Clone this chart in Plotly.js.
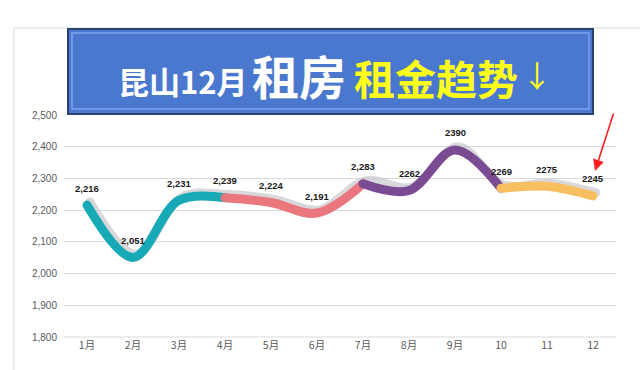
<!DOCTYPE html>
<html><head><meta charset="utf-8">
<script src="https://cdn.plot.ly/plotly-3.0.1.min.js"></script>
<style>html,body{margin:0;padding:0;background:#fff}#c{width:640px;height:370px}
#c .scatterlayer path.js-line{stroke-linecap:round}</style>
</head><body><div id="c"></div>
<script>
const months = ['1月','2月','3月','4月','5月','6月','7月','8月','9月','10','11','12'];
const rent = [2216, 2051, 2231, 2239, 2224, 2191, 2283, 2262, 2390, 2269, 2275, 2245];
const labelText = ['2,216','2,051','2,231','2,239','2,224','2,191','2,283','2262','2390','2269','2275','2245'];
const segments = [[0,3],[3,6],[6,9],[9,11]];
const segColors = ['#17a9b5','#e9777d','#7a4b92','#f8bf61'];

const traces = [];
// soft shadow of the whole line, drawn on the (hidden, slightly shifted) base axes
traces.push({x: months, y: rent, type:'scatter', mode:'lines', xaxis:'x', yaxis:'y',
  line:{shape:'spline', smoothing:1, width:9, color:'rgba(200,200,205,0.7)'}, hoverinfo:'skip'});
segments.forEach((s,i)=>{
  traces.push({x: months.slice(s[0], s[1]+1), y: rent.slice(s[0], s[1]+1), type:'scatter', mode:'lines',
    xaxis:'x2', yaxis:'y2',
    line:{shape:'spline', smoothing:1, width:9, color: segColors[i]}, hoverinfo:'skip'});
});

const annotations = months.map((m,i)=>({xref:'x2', yref:'y2', x:i, y:rent[i], text:'<b>'+labelText[i]+'</b>', showarrow:false, yshift:17,
  font:{family:'Liberation Sans, Arial, sans-serif', size:9.5, color:'#1a1a1a'}}));
const px = v => (v-64)/552, py = v => (337-v)/222;
const cjk = 'Noto Sans CJK SC, sans-serif';
annotations.push({xref:'paper', yref:'paper', x:px(250), y:py(80), xanchor:'right', yanchor:'middle', showarrow:false,
  text:'<b>昆山12月</b>', font:{family:cjk, size:31, color:'#fff'}});
annotations.push({xref:'paper', yref:'paper', x:px(250), y:py(74), xanchor:'left', yanchor:'middle', showarrow:false,
  text:'<b>租房</b>', font:{family:cjk, size:47, color:'#fff'}});
annotations.push({xref:'paper', yref:'paper', x:px(352), y:py(77), xanchor:'left', yanchor:'middle', showarrow:false,
  text:'<b>租金趋势</b>', font:{family:cjk, size:41, color:'#ffff1a'}});
annotations.push({xref:'paper', yref:'paper', x:px(520), y:py(74), xanchor:'left', yanchor:'middle', showarrow:false,
  text:'↓', font:{family:cjk, size:30, color:'#ffff1a'}});
annotations.push({xref:'paper', yref:'paper', x:px(595), y:py(171), ax:19, ay:-59,
  text:'', showarrow:true, arrowhead:2, arrowsize:1.4, arrowwidth:1.6, arrowcolor:'#ff2020'});

const layout = {
  width:640, height:370, margin:{l:64, r:24, t:115, b:33},
  paper_bgcolor:'#fff', plot_bgcolor:'#fff', showlegend:false,
  xaxis:{type:'category', categoryorder:'array', categoryarray:months, range:[-0.56,11.44], visible:false},
  yaxis:{range:[1790,2490], visible:false},
  xaxis2:{type:'category', categoryorder:'array', categoryarray:months, range:[-0.5,11.5], overlaying:'x',
    showgrid:false, zeroline:false, showline:false, ticks:'', tickfont:{family:cjk, size:10.5, color:'#595959'}},
  yaxis2:{range:[1800,2500], dtick:100, tickformat:',d', overlaying:'y', showgrid:true, gridcolor:'#d9d9d9', gridwidth:1,
    zeroline:false, showline:false, ticks:'', ticklabelstandoff:6,
    tickfont:{family:'Liberation Sans, Arial, sans-serif', size:10, color:'#595959'}},
  shapes:[
    {type:'line', xref:'paper', yref:'paper', x0:0, x1:1, y0:0, y1:0, line:{color:'#d9d9d9', width:1}},
    {type:'rect', xref:'paper', yref:'paper', x0:px(14), x1:px(700), y0:py(380), y1:py(28), line:{color:'#d9d9d9', width:1}, layer:'below'},
    {type:'rect', xref:'paper', yref:'paper', x0:px(68), x1:px(593), y0:py(114), y1:py(29),
      fillcolor:'#4a78cf', line:{color:'#2a426f', width:2}, layer:'above'},
    {type:'rect', xref:'paper', yref:'paper', x0:px(72), x1:px(589), y0:py(109), y1:py(33),
      line:{color:'#7aa2ea', width:1.5}, layer:'above'}
  ],
  annotations: annotations
};
Plotly.newPlot('c', traces, layout, {displayModeBar:false, staticPlot:true});
</script></body></html>
